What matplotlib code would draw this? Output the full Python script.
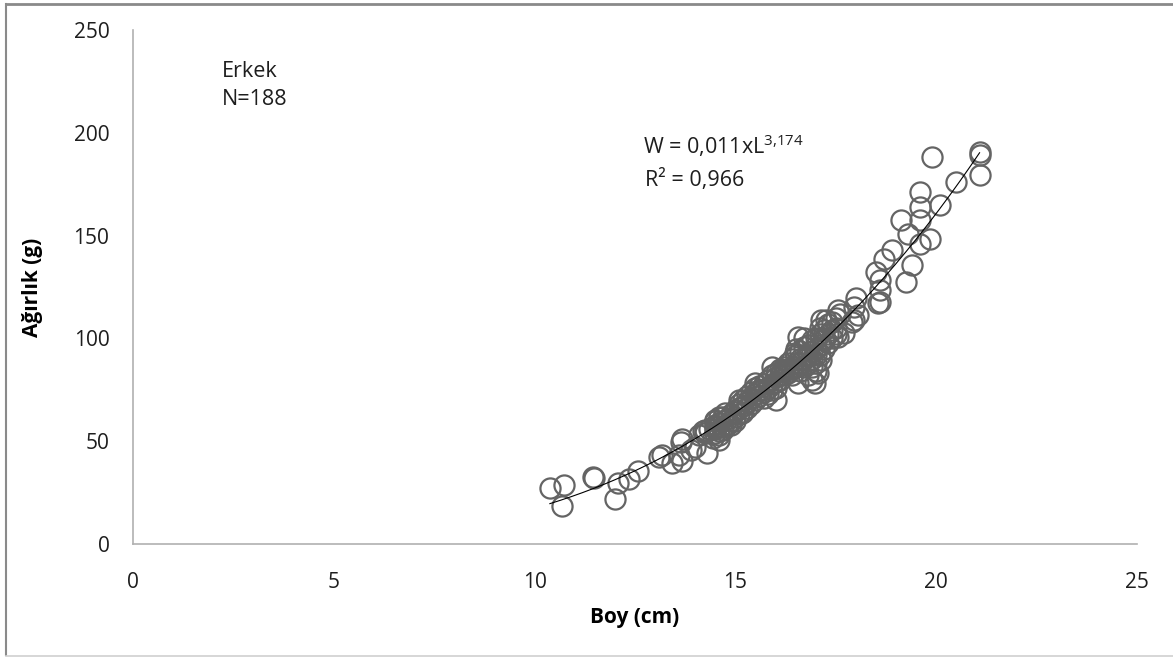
import numpy as np
import matplotlib
matplotlib.use("Agg")
import matplotlib.pyplot as plt
from matplotlib.lines import Line2D

# ---- data ----
boy_sparse = [10.38, 10.72, 10.68, 11.49, 11.45, 11.99, 12.08, 12.34, 12.58, 13.16, 13.10, 13.43,
              13.68, 13.68, 13.65, 13.60, 13.90, 14.00, 14.30, 14.25, 14.20, 14.50, 14.60, 14.45,
              14.60, 14.70, 14.80, 14.10, 14.35]
agirlik_sparse = [27.0, 28.6, 18.4, 31.9, 32.5, 21.7, 29.5, 31.4, 35.6, 43.2, 42.5, 39.5,
                  40.5, 51.3, 49.5, 43.2, 45.6, 47.3, 44.5, 53.8, 55.0, 57.0, 61.9, 51.5,
                  53.0, 55.5, 58.0, 53.0, 56.0]

boy_mid = [14.25, 14.58, 14.50, 14.75, 15.08, 15.16, 15.50, 15.66, 16.00, 15.90, 16.15, 16.56,
           16.48, 16.56, 16.97, 17.05, 17.14, 17.20, 17.14, 17.55, 17.55, 17.96, 17.96, 18.55,
           17.90, 17.26, 17.70]
agirlik_mid = [55.5, 50.6, 60.3, 63.6, 70.0, 63.6, 78.1, 74.9, 70.0, 86.2, 84.6, 100.8,
               92.7, 78.1, 78.1, 83.0, 89.5, 99.3, 109.0, 113.8, 100.8, 109.0, 115.5, 117.0,
               108.0, 108.9, 102.5]

boy_dense = [14.5, 14.5, 14.5, 14.5, 14.6, 14.6, 14.7, 14.7, 14.7, 14.8, 14.8, 14.9, 14.9, 14.9,
             15.0, 15.0, 15.0, 15.0, 15.1, 15.1, 15.1, 15.2, 15.2, 15.2, 15.3, 15.3, 15.3,
             15.4, 15.4, 15.4, 15.5, 15.5, 15.5, 15.6, 15.6, 15.6, 15.7, 15.7, 15.7,
             15.8, 15.8, 15.8, 15.9, 15.9, 15.9, 16.0, 16.0, 16.0, 16.0, 16.1, 16.1, 16.1,
             16.2, 16.2, 16.2, 16.3, 16.3, 16.3, 16.4, 16.4, 16.4, 16.5, 16.5, 16.5, 16.5,
             16.6, 16.6, 16.6, 16.6, 16.7, 16.7, 16.7, 16.7, 16.8, 16.8, 16.8, 16.8,
             16.9, 16.9, 16.9, 16.9, 16.9, 17.0, 17.0, 17.0, 17.0, 17.0, 17.1, 17.1, 17.1, 17.1,
             17.2, 17.2, 17.2, 17.3, 17.3, 17.3, 17.4, 17.4, 17.4, 17.5, 17.5, 17.5]
agirlik_dense = [54, 58, 56, 60, 55, 59, 57, 60, 62, 58, 61, 60, 63, 58,
                 62, 65, 64, 60, 63, 66, 68, 64, 67, 70, 66, 69, 72,
                 68, 71, 74, 70, 73, 76, 72, 75, 77, 74, 78, 71,
                 76, 80, 73, 78, 82, 75, 79, 83, 76, 81, 80, 85, 82,
                 82, 86, 84, 83, 88, 85, 85, 90, 82, 86, 92, 88, 95,
                 88, 94, 84, 90, 90, 96, 86, 100, 92, 97, 88, 82,
                 94, 99, 86, 80, 90, 95, 100, 88, 84, 92, 97, 102, 92, 105,
                 100, 104, 95, 102, 107, 98, 104, 108, 100, 105, 110, 102]

boy_upper = [18.00, 18.05, 18.60, 18.60, 18.60, 18.50, 19.25, 19.40, 18.70, 18.90, 19.60, 19.84,
             19.30, 19.13, 19.60, 19.60, 20.10, 19.60, 20.50, 21.08, 21.08, 21.08, 19.90, 17.60]
agirlik_upper = [119.5, 111.4, 117.9, 123.5, 128.4, 132.3, 127.6, 135.5, 138.8, 142.8, 146.0, 148.5,
                 150.9, 157.6, 157.6, 164.1, 164.9, 171.3, 176.2, 179.5, 189.0, 190.6, 188.2, 112.0]

boy = np.array(boy_sparse + boy_mid + boy_dense + boy_upper, dtype=float)
agirlik = np.array(agirlik_sparse + agirlik_mid + agirlik_dense + agirlik_upper, dtype=float)

x_ticks = [0, 5, 10, 15, 20, 25]
y_ticks = [0, 50, 100, 150, 200, 250]

FONT = "Open Sans"
plt.rcParams["font.family"] = [FONT, "DejaVu Sans"]

fig = plt.figure(figsize=(11.73, 6.57), dpi=100)
ax = fig.add_axes([133 / 1173, 1 - 544 / 657, (1137 - 133) / 1173, (544 - 30) / 657])

ax.plot(boy, agirlik, linestyle="none", marker="o", markersize=14.5,
        markerfacecolor="none", markeredgecolor="#646464", markeredgewidth=1.6)

# power trendline fitted to the data
b, loga = np.polyfit(np.log(boy), np.log(agirlik), 1)
xs = np.linspace(boy.min(), boy.max(), 200)
ax.plot(xs, np.exp(loga) * xs ** b, color="black", linewidth=0.8)

ax.set_xlim(0, 25)
ax.set_ylim(0, 250)
ax.set_xticks(x_ticks)
ax.set_yticks(y_ticks)
ax.set_xticklabels([str(t) for t in x_ticks])
ax.set_yticklabels([str(t) for t in y_ticks])
ax.tick_params(length=0, labelsize=15, labelcolor="#1e1e1e")
ax.tick_params(axis="x", pad=20)
ax.tick_params(axis="y", pad=17)
for s in ["top", "right"]:
    ax.spines[s].set_visible(False)
for s in ["left", "bottom"]:
    ax.spines[s].set_color("#b0b0b0")
    ax.spines[s].set_linewidth(1.2)

ax.set_xlabel("Boy (cm)", fontsize=15, fontweight="bold", labelpad=10)
ax.set_ylabel("Ağırlık (g)", fontsize=15, fontweight="bold", labelpad=22)

ax.text(2.21, 229.6, "Erkek", fontsize=15.5, va="center", ha="left", color="#1e1e1e")
ax.text(2.21, 216.0, "N=188", fontsize=15.5, va="center", ha="left", color="#1e1e1e")
ax.text(12.69, 193.6, r"W = 0,011xL$^{\mathregular{3{,}174}}$", fontsize=15.5, va="center",
        ha="left", color="#1e1e1e")
ax.text(12.74, 177.0, "R² = 0,966", fontsize=15.5, va="center", ha="left", color="#1e1e1e")

# outer chart border
fig.add_artist(Line2D([6 / 1173, 6 / 1173], [1 - 655 / 657, 1 - 4 / 657],
                      transform=fig.transFigure, color="#8a8a8a", linewidth=1.5))
fig.add_artist(Line2D([6 / 1173, 1], [1 - 3.5 / 657, 1 - 3.5 / 657],
                      transform=fig.transFigure, color="#8a8a8a", linewidth=2))
fig.add_artist(Line2D([6 / 1173, 1], [1 - 655.5 / 657, 1 - 655.5 / 657],
                      transform=fig.transFigure, color="#d0d0d0", linewidth=1.2))

fig.savefig("out.png", dpi=100)
